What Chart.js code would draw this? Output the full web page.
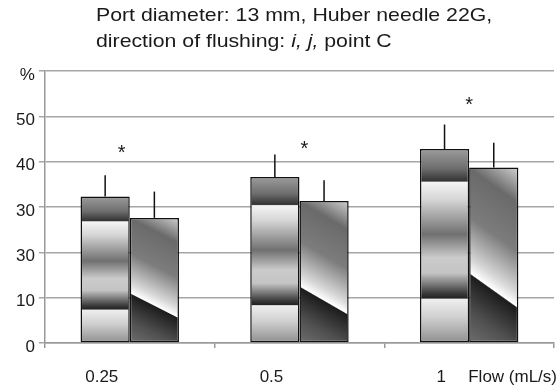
<!DOCTYPE html>
<html lang="en">
  <head>
    <meta charset="UTF-8" />
    <title>Port diameter 13 mm, Huber needle 22G</title>
    <script src="https://cdn.jsdelivr.net/npm/chart.js@4.4.0/dist/chart.umd.min.js"></script>
    <style>
      body {
        margin: 0;
        padding: 0;
        background: #fff;
      }
      .container {
        width: 558px;
        height: 387px;
      }
    </style>
  </head>
  <body>
    <div class="container">
      <canvas id="chart"></canvas>
    </div>
    <script>
      // values
      const flows = ['0.25', '0.5', '1']
      const seriesA = [32.3, 36.6, 42.8]
      const seriesB = [27.6, 31.3, 38.7]
      const errA = [4.7, 5.0, 5.4]
      const errB = [5.8, 4.6, 5.5]
      const starY = [43, 44, 53.5]
      // the source figure labels the 20 line as "30" and the 60 line as "%"
      const yTickLabels = ['0', '10', '30', '30', '40', '50', '%']

      const FONT = "'Liberation Sans', Arial, sans-serif"
      const CAT_PCT = 0.58
      const STRETCH = 1.12 // the source text is a bit wider than it is tall

      const barBox = (c) => {
        const { x, y } = c.chart.scales
        const catW = x.width / flows.length
        const groupW = catW * CAT_PCT
        const w = groupW / 2
        const left = x.getPixelForValue(c.dataIndex) - groupW / 2 + c.datasetIndex * w
        return {
          left,
          right: left + w,
          top: y.getPixelForValue(c.parsed.y),
          bottom: y.getPixelForValue(0),
        }
      }

      const stopsA = [
        [0, '#9c9c9c'], [0.1, '#6e6e6e'], [0.165, '#333333'], [0.172, '#f4f4f4'],
        [0.26, '#d6d6d6'], [0.44, '#707070'], [0.56, '#cbcbcb'], [0.64, '#c4c4c4'],
        [0.745, '#3a3a3a'], [0.768, '#232323'], [0.775, '#eeeeee'], [0.87, '#cfcfcf'],
        [1, '#8e8e8e'],
      ]
      const stopsB = [
        [0, '#d0d0d0'], [0.17, '#6a6a6a'], [0.4, '#7c7c7c'], [0.6, '#d8d8d8'],
        [0.665, '#ffffff'], [0.672, '#1c1c1c'], [0.85, '#505050'], [1, '#6e6e6e'],
      ]

      const bandFill = (c) => {
        if (c.type !== 'data' || !c.chart.chartArea) return '#999'
        const b = barBox(c)
        if (!isFinite(b.top) || b.bottom - b.top < 1) return '#999'
        const g = c.chart.ctx.createLinearGradient(0, b.top, 0, b.bottom)
        stopsA.forEach(([t, col]) => g.addColorStop(t, col))
        return g
      }

      const slantFill = (c) => {
        if (c.type !== 'data' || !c.chart.chartArea) return '#999'
        const b = barBox(c)
        const w = b.right - b.left
        const h = b.bottom - b.top
        if (!isFinite(h) || h < 1 || w < 1) return '#999'
        const dx = -0.2 * h
        const dy = w
        const k = (1.2 * h * w) / (dx * dx + dy * dy)
        const g = c.chart.ctx.createLinearGradient(b.right, b.top, b.right + dx * k, b.top + dy * k)
        stopsB.forEach(([t, col]) => g.addColorStop(t, col))
        return g
      }

      // draw text stretched horizontally around its left/right/centre anchor
      const wideText = (ctx, s, x, y) => {
        ctx.save()
        ctx.translate(x, y)
        ctx.scale(STRETCH, 1)
        ctx.fillText(s, 0, 0)
        ctx.restore()
      }

      const extras = {
        id: 'extras',
        afterDatasetsDraw(chart) {
          const { ctx, scales: { y } } = chart
          ctx.save()
          ctx.strokeStyle = '#111'
          ctx.lineWidth = 1.5
          ;[errA, errB].forEach((errs, di) => {
            const vals = chart.data.datasets[di].data
            chart.getDatasetMeta(di).data.forEach((bar, i) => {
              const top = y.getPixelForValue(vals[i] + errs[i])
              ctx.beginPath()
              ctx.moveTo(bar.x, bar.y)
              ctx.lineTo(bar.x, top)
              ctx.stroke()
            })
          })
          ctx.restore()
        },
        afterDraw(chart) {
          const { ctx, scales: { x, y } } = chart
          ctx.save()
          ctx.fillStyle = '#1a1a1a'

          // significance marks
          const starNudge = [-8, 5, 0]
          ctx.font = '20px ' + FONT
          ctx.textAlign = 'center'
          ctx.textBaseline = 'alphabetic'
          starY.forEach((v, i) => {
            ctx.fillText('*', x.getPixelForValue(i) + starNudge[i], y.getPixelForValue(v) + 11)
          })

          // category labels sit left of the group centres in the source
          ctx.font = '17px ' + FONT
          ctx.textBaseline = 'middle'
          const labelY = x.bottom + 29
          flows.forEach((s, i) => {
            ctx.textAlign = 'center'
            ctx.fillText(s, x.getPixelForValue(i) - 28, labelY)
          })
          ctx.textAlign = 'right'
          ctx.fillText('Flow (mL/s)', chart.width - 1, labelY)

          // title, second line has an italic part
          ctx.textAlign = 'left'
          ctx.textBaseline = 'alphabetic'
          ctx.font = '19px ' + FONT
          wideText(ctx, 'Port diameter: 13 mm, Huber needle 22G,', 96, 21)
          let tx = 96
          const parts = [
            ['direction of flushing: ', ''],
            ['i, j,', 'italic '],
            [' point C', ''],
          ]
          parts.forEach(([s, style]) => {
            ctx.font = style + '19px ' + FONT
            wideText(ctx, s, tx, 47)
            tx += ctx.measureText(s).width * STRETCH
          })
          ctx.restore()
        },
      }

      new Chart(document.getElementById('chart'), {
        type: 'bar',
        data: {
          labels: flows,
          datasets: [
            {
              data: seriesA,
              backgroundColor: bandFill,
              borderColor: '#111',
              borderWidth: 1.5,
              borderSkipped: false,
            },
            {
              data: seriesB,
              backgroundColor: slantFill,
              borderColor: '#111',
              borderWidth: 1.5,
              borderSkipped: false,
            },
          ],
        },
        plugins: [extras],
        options: {
          responsive: true,
          maintainAspectRatio: false,
          animation: false,
          layout: {
            padding: { top: 71, left: 12, right: 4, bottom: 39 },
          },
          datasets: {
            bar: {
              categoryPercentage: CAT_PCT,
              barPercentage: 1,
            },
          },
          plugins: {
            legend: { display: false },
            tooltip: { enabled: false },
          },
          scales: {
            x: {
              grid: {
                display: true,
                drawOnChartArea: false,
                tickLength: 5,
                color: '#999',
                lineWidth: 1.5,
              },
              border: { color: '#999', width: 1.5 },
              ticks: { display: false },
            },
            y: {
              min: 0,
              max: 60,
              grid: {
                color: '#a6a6a6',
                lineWidth: 1.5,
                tickLength: 6,
              },
              border: { color: '#999', width: 1.5 },
              ticks: {
                stepSize: 10,
                color: '#1a1a1a',
                font: { family: FONT, size: 17 },
                padding: 4,
                labelOffset: 4,
                callback: (v) => yTickLabels[Math.round(v / 10)],
              },
            },
          },
        },
      })
    </script>
  </body>
</html>
